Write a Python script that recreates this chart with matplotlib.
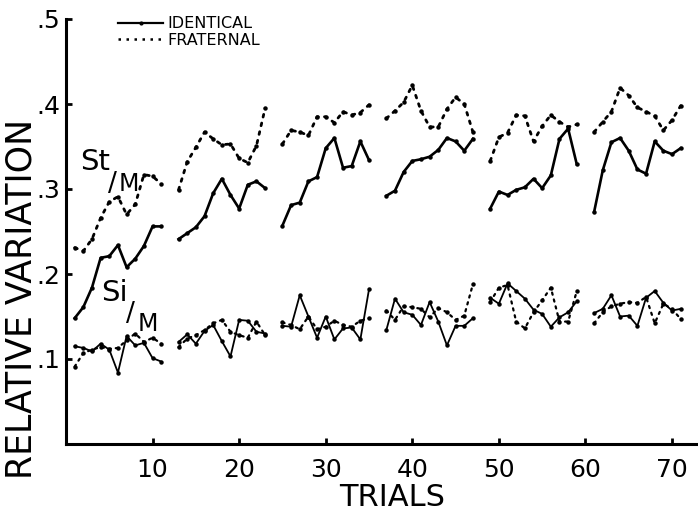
import numpy as np
import matplotlib
matplotlib.use('Agg')
import matplotlib.pyplot as plt

# --- dati ---
block_starts = [1, 13, 25, 37, 49, 61]
block_len = 11
trials = [s + k for s in block_starts for k in range(block_len)]

st_identical = [0.148, 0.161, 0.184, 0.219, 0.221, 0.234, 0.208, 0.218, 0.233, 0.256, 0.256,
                0.241, 0.248, 0.255, 0.268, 0.295, 0.312, 0.293, 0.277, 0.305, 0.309, 0.301,
                0.257, 0.281, 0.284, 0.309, 0.314, 0.348, 0.360, 0.325, 0.327, 0.356, 0.334,
                0.292, 0.298, 0.320, 0.333, 0.335, 0.338, 0.346, 0.360, 0.356, 0.345, 0.359,
                0.277, 0.297, 0.293, 0.299, 0.302, 0.312, 0.301, 0.316, 0.359, 0.371, 0.329,
                0.273, 0.322, 0.355, 0.360, 0.345, 0.323, 0.318, 0.356, 0.345, 0.341, 0.348]
st_fraternal = [0.231, 0.227, 0.241, 0.266, 0.285, 0.291, 0.270, 0.282, 0.317, 0.315, 0.306,
                0.299, 0.332, 0.349, 0.367, 0.359, 0.352, 0.353, 0.336, 0.331, 0.351, 0.395,
                0.353, 0.369, 0.367, 0.363, 0.385, 0.385, 0.378, 0.391, 0.387, 0.390, 0.399,
                0.383, 0.392, 0.402, 0.422, 0.392, 0.373, 0.373, 0.394, 0.408, 0.400, 0.367,
                0.333, 0.361, 0.366, 0.387, 0.386, 0.356, 0.374, 0.387, 0.379, 0.373, 0.376,
                0.367, 0.379, 0.391, 0.419, 0.410, 0.396, 0.391, 0.386, 0.369, 0.381, 0.398]
si_identical = [0.115, 0.113, 0.109, 0.118, 0.111, 0.084, 0.127, 0.116, 0.119, 0.101, 0.097,
                0.120, 0.129, 0.118, 0.133, 0.140, 0.121, 0.103, 0.146, 0.145, 0.132, 0.130,
                0.139, 0.138, 0.175, 0.150, 0.125, 0.150, 0.123, 0.136, 0.137, 0.123, 0.182,
                0.134, 0.171, 0.155, 0.152, 0.140, 0.167, 0.144, 0.116, 0.139, 0.139, 0.148,
                0.172, 0.165, 0.189, 0.180, 0.171, 0.158, 0.153, 0.138, 0.149, 0.155, 0.168,
                0.154, 0.159, 0.175, 0.150, 0.151, 0.139, 0.172, 0.180, 0.166, 0.157, 0.159]
si_fraternal = [0.091, 0.107, 0.111, 0.114, 0.112, 0.113, 0.122, 0.130, 0.120, 0.125, 0.118,
                0.114, 0.124, 0.128, 0.134, 0.142, 0.146, 0.132, 0.128, 0.125, 0.144, 0.128,
                0.143, 0.140, 0.135, 0.150, 0.135, 0.138, 0.145, 0.140, 0.138, 0.145, 0.148,
                0.157, 0.146, 0.162, 0.161, 0.159, 0.149, 0.160, 0.155, 0.146, 0.151, 0.188,
                0.167, 0.184, 0.187, 0.144, 0.136, 0.155, 0.169, 0.184, 0.144, 0.144, 0.180,
                0.142, 0.155, 0.162, 0.165, 0.167, 0.166, 0.173, 0.142, 0.165, 0.159, 0.147]

x_ticks = [10, 20, 30, 40, 50, 60, 70]
y_ticks = [0.1, 0.2, 0.3, 0.4, 0.5]
y_labels = ['.1', '.2', '.3', '.4', '.5']

# --- grafico ---
fig = plt.figure(figsize=(6.98, 5.18), dpi=100)
ax = fig.add_axes([66 / 698, 74 / 518, 632 / 698, 425 / 518])

t = np.array(trials)
series = [
    (st_identical, '-', 1.9),
    (st_fraternal, (0, (1, 2.2)), 2.0),
    (si_identical, '-', 1.3),
    (si_fraternal, (0, (1, 2.2)), 1.6),
]
for vals, ls, lw in series:
    v = np.array(vals)
    for b in range(len(block_starts)):
        sl = slice(b * block_len, (b + 1) * block_len)
        ax.plot(t[sl], v[sl], color='black', linestyle=ls, linewidth=lw,
                marker='o', markersize=2.2, dash_capstyle='round')

ax.set_xlim(0, 73)
ax.set_ylim(0, 0.5)
ax.set_xticks(x_ticks)
ax.set_yticks(y_ticks)
ax.set_yticklabels(y_labels)
ax.tick_params(axis='both', direction='in', length=4, width=2, labelsize=18, pad=4)
ax.tick_params(axis='x', pad=10)
for s in ['top', 'right']:
    ax.spines[s].set_visible(False)
for s in ['left', 'bottom']:
    ax.spines[s].set_linewidth(2.2)

ax.set_xlabel('TRIALS', fontsize=22, va='center')
ax.xaxis.set_label_coords(0.516, -0.127)
ax.set_ylabel('RELATIVE VARIATION', fontsize=25, va='center', ha='center')
ax.yaxis.set_label_coords(-0.07, 0.341)

# legenda
leg_lines = [plt.Line2D([], [], color='black', lw=1.6, marker='o', markersize=2),
             plt.Line2D([], [], color='black', lw=1.8, linestyle=(0, (1, 2.2)))]
ax.legend(leg_lines, ['IDENTICAL', 'FRATERNAL'], loc='upper left',
          bbox_to_anchor=(0.06, 1.04), frameon=False, fontsize=11.5,
          handlelength=2.8, handletextpad=0.3, labelspacing=0.1)

# etichette delle curve
ax.text(1.6, 0.322, 'St', fontsize=21, ha='left', va='baseline')
ax.text(4.9, 0.298, '/', fontsize=19, ha='left', va='baseline')
ax.text(6.1, 0.298, 'M', fontsize=17, ha='left', va='baseline')
ax.text(4.0, 0.168, 'Si', fontsize=21, ha='left', va='baseline')
ax.text(6.9, 0.145, '/', fontsize=19, ha='left', va='baseline')
ax.text(8.3, 0.133, 'M', fontsize=17, ha='left', va='baseline')

fig.savefig('out.png', dpi=100)
